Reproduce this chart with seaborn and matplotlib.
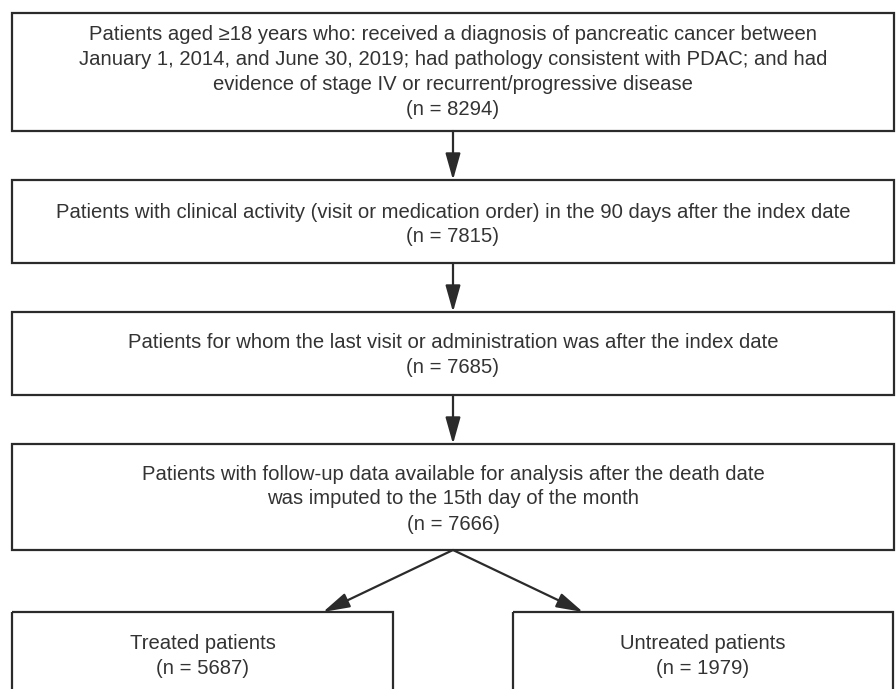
import matplotlib
matplotlib.use("Agg")
import matplotlib.pyplot as plt
import seaborn as sns
from matplotlib.patches import Rectangle

sns.set_theme(style="white")
plt.rcParams['font.family'] = ['Liberation Sans', 'DejaVu Sans']

# ---- data ----
step_labels = [
    "Patients aged \u226518 years who: received a diagnosis of pancreatic cancer between\n"
    "January 1, 2014, and June 30, 2019; had pathology consistent with PDAC; and had\n"
    "evidence of stage IV or recurrent/progressive disease",
    "Patients with clinical activity (visit or medication order) in the 90 days after the index date",
    "Patients for whom the last visit or administration was after the index date",
    "Patients with follow-up data available for analysis after the death date\n"
    "was imputed to the 15th day of the month",
]
step_counts = [8294, 7815, 7685, 7666]
branch_labels = ["Treated patients", "Untreated patients"]
branch_counts = [5687, 1979]

# ---- layout ----
W, H = 896, 689
fig = plt.figure(figsize=(W / 100, H / 100), dpi=100)
ax = fig.add_axes([0, 0, 1, 1])
ax.set_xlim(0, W)
ax.set_ylim(H, 0)
ax.axis("off")

ink = "#2b2b2b"
txt = "#333333"
lw = 1.6
fs = 14.6
ls = 1.4

step_boxes = [(12, 13, 894, 131), (12, 180, 894, 263), (12, 312, 894, 395), (12, 444, 894, 550)]
branch_boxes = [(12, 612, 393, 705), (513, 612, 893, 705)]
text_centers = [72, 224.5, 355, 499]
branch_text_center = 656

def box(x0, y0, x1, y1):
    ax.add_patch(Rectangle((x0, y0), x1 - x0, y1 - y0, fill=False,
                           edgecolor=ink, linewidth=lw, clip_on=True))

for (x0, y0, x1, y1), lab, n, yc in zip(step_boxes, step_labels, step_counts, text_centers):
    box(x0, y0, x1, y1)
    ax.text((x0 + x1) / 2, yc, f"{lab}\n(n = {n})", ha="center", va="center",
            fontsize=fs, color=txt, linespacing=ls)

for (x0, y0, x1, y1), lab, n in zip(branch_boxes, branch_labels, branch_counts):
    box(x0, y0, x1, y1)
    ax.text((x0 + x1) / 2, branch_text_center, f"{lab}\n(n = {n})", ha="center", va="center",
            fontsize=fs, color=txt, linespacing=ls)

arrow_kw = dict(arrowstyle="-|>,head_length=1.35,head_width=0.38", color=ink, lw=lw,
                shrinkA=0, shrinkB=0)
cx = 453
for (a, b) in zip(step_boxes[:-1], step_boxes[1:]):
    ax.annotate("", xy=(cx, b[1]), xytext=(cx, a[3]), arrowprops=arrow_kw)

apex_y = step_boxes[-1][3]
for tip_x in (323, 583):
    ax.annotate("", xy=(tip_x, branch_boxes[0][1]), xytext=(cx, apex_y), arrowprops=arrow_kw)

fig.savefig("out.png", dpi=100, facecolor="white")
